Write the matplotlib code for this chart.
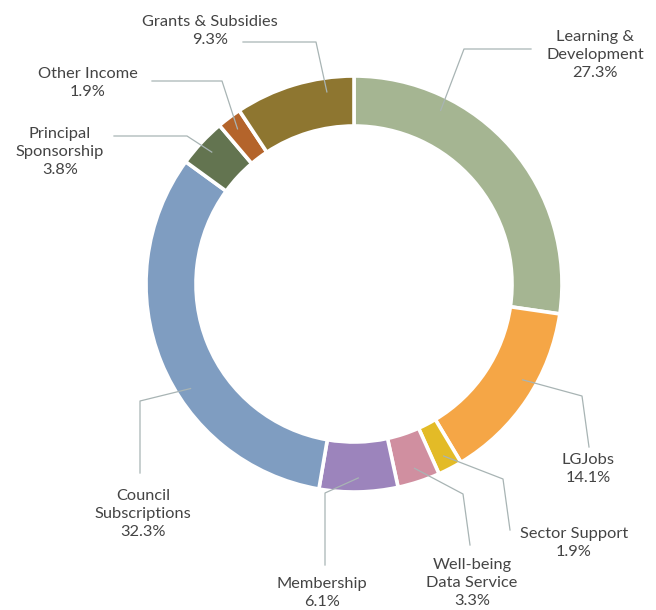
import numpy as np
import matplotlib.pyplot as plt

labels = ["Learning &\nDevelopment", "LGJobs", "Sector Support", "Well-being\nData Service",
          "Membership", "Council\nSubscriptions", "Principal\nSponsorship", "Other Income",
          "Grants & Subsidies"]
values = [27.3, 14.1, 1.9, 3.3, 6.1, 32.3, 3.8, 1.9, 9.3]
colors = ["#A5B592", "#F5A646", "#E3BB27", "#D08FA0", "#9C84BC",
          "#7F9DC1", "#637450", "#B4642B", "#8E7630"]

# layout (pixel coords, y downward)
anchor_frac = [0.27, 0.42, 0.5, 0.5, 0.5, 0.41, 0.5, 0.5, 0.76]
elbows = [(464, 49), (582, 396), (503, 479), (463, 494), (325, 493),
          (140, 401), (187, 136), (222, 81), (316, 42)]
ends = [(531, 49), (589, 447), (510, 530), (470, 545), (325, 565),
        (140, 473), (114, 136), (152, 81), (243, 42)]
text_pos = [(595, 55), (588, 469), (574, 543), (472, 583), (322, 593),
            (143, 514), (60, 152), (88, 83), (210, 31)]

W, H = 656, 610
cx, cy, R = 354, 284, 208

def fy(y):
    return H - y

fig = plt.figure(figsize=(6.56, 6.10), dpi=100)
ax = fig.add_axes([0, 0, 1, 1])
wedges, _ = ax.pie(values, radius=R, center=(cx, fy(cy)), startangle=90,
                   counterclock=False, colors=colors,
                   wedgeprops=dict(width=50, edgecolor="white", linewidth=2.6))
ax.set_xlim(0, W)
ax.set_ylim(0, H)
ax.set_aspect("equal")
ax.axis("off")

for i, w in enumerate(wedges):
    # wedge drawn clockwise: theta2 is the start edge
    ang = np.radians(w.theta2 - anchor_frac[i] * (w.theta2 - w.theta1))
    ax_, ay_ = cx + 194 * np.cos(ang), fy(cy) + 194 * np.sin(ang)
    ex, ey = elbows[i]
    nx, ny = ends[i]
    ax.plot([ax_, ex, nx], [ay_, fy(ey), fy(ny)], color="#A8B4B4", lw=0.9)
    tx, ty = text_pos[i]
    ax.text(tx, fy(ty), f"{labels[i]}\n{values[i]}%", ha="center", va="center",
            fontsize=11.8, family="Lato", color="#444444", linespacing=1.4)

fig.savefig("out.png", dpi=100)
